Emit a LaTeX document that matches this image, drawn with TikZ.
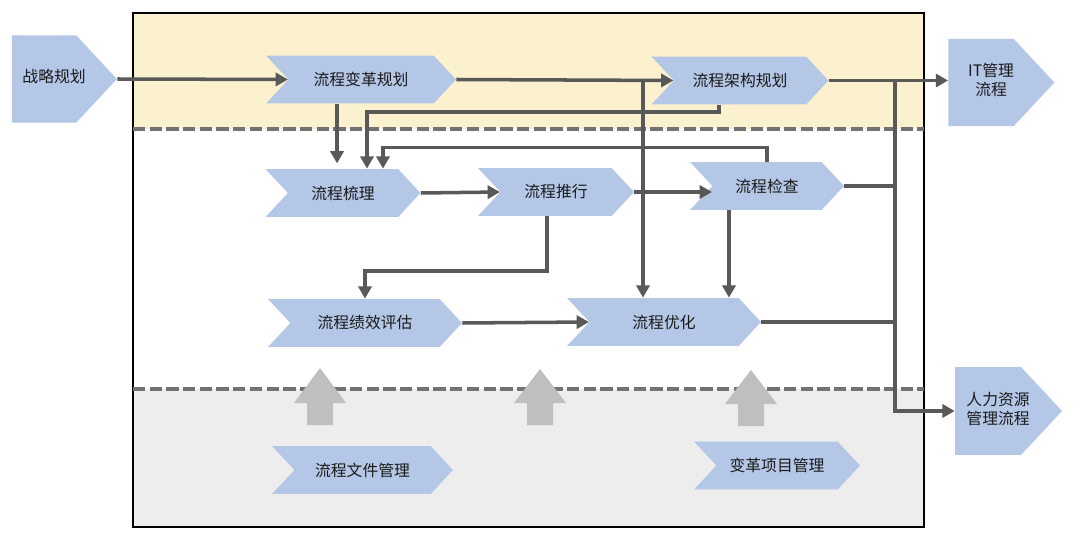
\documentclass[tikz,border=0pt]{standalone}
\usepackage{fontspec}
\setmainfont{Noto Sans CJK SC}
\usetikzlibrary{shapes.symbols}
\usetikzlibrary{arrows.meta}

\definecolor{chevblue}{HTML}{B4C7E7}
\definecolor{flowgray}{HTML}{595959}
\definecolor{bandyellow}{HTML}{FCF1CF}
\definecolor{bandgray}{HTML}{EDEDED}
\definecolor{dashgray}{HTML}{727272}
\definecolor{liftgray}{HTML}{BFBFBF}
\definecolor{labelink}{HTML}{1A1A1A}

% text of a feed shape sits right of the shape's centre
\newcommand{\feedtext}[1]{\makebox[0pt]{\hspace*{11.5pt}\raisebox{-1.6pt}{\begin{tabular}{@{}c@{}}#1\end{tabular}}}}

\tikzset{
    chev/.style={signal, signal from=west, signal to=east, signal pointer angle=94,
        fill=chevblue, draw=none, minimum height=0.96cm, inner sep=0pt,
        text=labelink, font=\fontsize{9}{10.5}\selectfont},
    feed/.style={signal, signal to=east, signal pointer angle=94,
        fill=chevblue, draw=none, minimum height=1.75cm, minimum width=2.1cm, inner sep=0pt,
        text=labelink, font=\fontsize{9}{10.5}\selectfont},
    flow/.style={draw=flowgray, line width=2pt, -{Triangle[length=7pt, width=7.5pt]}},
    link/.style={draw=flowgray, line width=2pt},
}

\begin{document}
\begin{tikzpicture}[x=0.02cm, y=-0.02cm]
    \useasboundingbox (0,0) rectangle (1080,537);

    % bands and frame
    \fill[bandyellow] (133,13) rectangle (924,129);
    \fill[bandgray] (133,389) rectangle (924,527);
    \draw[black, line width=1.1pt] (133,13) rectangle (924,527);
    \draw[dashgray, line width=2pt, dash pattern=on 7pt off 2.5pt] (133,129) -- (924,129);
    \draw[dashgray, line width=2pt, dash pattern=on 7pt off 2.5pt] (133,389) -- (924,389);

    % support arrows
    \fill[liftgray] (307,425) -- (307,403) -- (294,403) -- (320,368) -- (346,403) -- (333,403) -- (333,425) -- cycle;
    \fill[liftgray] (527,425) -- (527,403) -- (514,403) -- (540,369) -- (566,403) -- (553,403) -- (553,425) -- cycle;
    \fill[liftgray] (738,426) -- (738,404) -- (725,404) -- (751,370) -- (777,404) -- (764,404) -- (764,426) -- cycle;

    \node[feed, minimum width=2.1cm] (strat) at (44,79) {\feedtext{战略规划}};
    \node[chev, minimum width=3.8cm] (plan) at (361,79.5) {流程变革规划};
    \node[chev, minimum width=3.54cm] (arch) at (740,80.5) {流程架构规划};
    \node[feed, minimum width=2.12cm] (itp) at (981,82.5) {\feedtext{IT管理\\流程}};
    \node[chev, minimum width=3.1cm] (sort) at (343,193) {流程梳理};
    \node[chev, minimum width=3.12cm] (roll) at (556,192) {流程推行};
    \node[chev, minimum width=3.08cm] (check) at (767,186) {流程检查};
    \node[chev, minimum width=3.88cm] (perf) at (365,323) {流程绩效评估};
    \node[chev, minimum width=3.88cm] (opt) at (664,322) {流程优化};
    \node[feed, minimum width=2.14cm, minimum height=1.76cm] (hr) at (988,411) {\feedtext{人力资源\\管理流程}};
    \node[chev, minimum width=3.62cm] (docs) at (362.5,470) {流程文件管理};
    \node[chev, minimum width=3.32cm] (proj) at (777,465.5) {变革项目管理};

    \coordinate (jA) at (643,80);
    \coordinate (jB) at (895,80);

    \draw[flow] (strat.east) -- (plan.west);
    \draw[flow] (plan.east) -- (arch.west);
    \draw[flow] (arch.east) -- (arch.east -| itp.west);
    \draw[flow, shorten >=3pt] (337,0 |- plan.south) -- (337,0 |- sort.north);
    \draw[flow] (719,0 |- arch.south) -- ++(0,7) -| (367,0 |- sort.north);
    \draw[flow] (767,0 |- check.north) -- ++(0,-14) -| (383,0 |- sort.north);
    \draw[flow] (sort.east) -- (roll.west);
    \draw[flow] (roll.east) -- (roll.east -| check.west);
    \draw[flow] (547,0 |- roll.south) -- (547,271) -| (perf.north);
    \draw[flow] (perf.east) -- (opt.west);
    \draw[flow] (jA) -- (jA |- opt.north);
    \draw[flow] (729,0 |- check.south) -- (729,0 |- opt.north);
    \draw[link] (check.east) -- (check.east -| jB);
    \draw[link] (opt.east) -- (opt.east -| jB);
    \draw[flow] (jB) |- (hr.west);
\end{tikzpicture}
\end{document}
